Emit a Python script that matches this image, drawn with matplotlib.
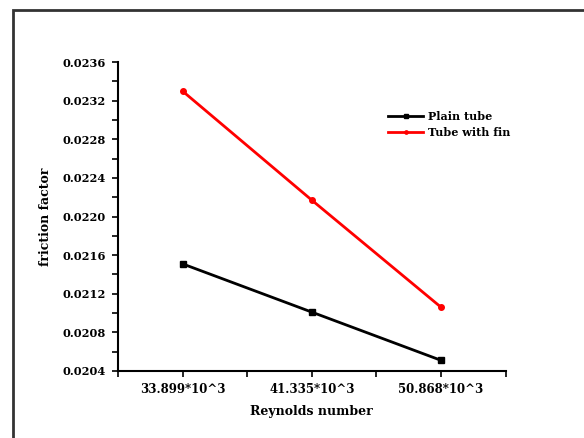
import matplotlib
matplotlib.use('Agg')
import numpy as np
from matplotlib import pyplot
from matplotlib.patches import Rectangle

reynolds_labels = ['33.899*10^3', '41.335*10^3', '50.868*10^3']
plain_tube = [0.02151, 0.02101, 0.02051]
tube_with_fin = [0.02330, 0.02217, 0.02106]
y_ticks = [0.0204, 0.0208, 0.0212, 0.0216, 0.0220, 0.0224, 0.0228, 0.0232, 0.0236]

pyplot.rcParams['font.family'] = 'DejaVu Serif'
pyplot.rcParams['font.weight'] = 'bold'
pyplot.rcParams['axes.labelweight'] = 'bold'

fig = pyplot.figure(figsize=(5.84, 4.38), dpi=100)
fig.patches.append(Rectangle((0.022, -0.1), 1.2, 1.077, transform=fig.transFigure,
                             fill=False, edgecolor='#333333', linewidth=2))
ax = fig.add_axes([0.202, 0.153, 0.664, 0.705])

x = np.arange(1, len(reynolds_labels) + 1)
ax.plot(x, plain_tube, color='black', marker='s', markersize=4, linewidth=2, label='Plain tube')
ax.plot(x, tube_with_fin, color='red', marker='o', markersize=4, linewidth=2, label='Tube with fin')

ax.spines['top'].set_visible(False)
ax.spines['right'].set_visible(False)
ax.spines['left'].set_linewidth(1.5)
ax.spines['bottom'].set_linewidth(1.5)

ax.set_xlim(0.5, 3.5)
ax.set_ylim(0.0204, 0.0236)
ax.set_xticks(x)
ax.set_xticklabels(reynolds_labels, fontsize=8.5)
ax.set_xticks([0.5, 1.5, 2.5, 3.5], minor=True)
ax.set_yticks(y_ticks)
ax.set_yticklabels(['%.4f' % v for v in y_ticks], fontsize=8.2)
ax.set_yticks(np.arange(0.0206, 0.0236, 0.0004), minor=True)
ax.tick_params(which='both', direction='out', length=4, width=1.2, pad=5)

ax.set_xlabel('Reynolds number', fontsize=9, labelpad=6)
ax.set_ylabel('friction factor', fontsize=9, labelpad=7)

ax.legend(loc='upper left', bbox_to_anchor=(0.67, 0.875), frameon=False, fontsize=8,
          handlelength=3.2, labelspacing=0.5, handletextpad=0.4, markerscale=0.6)

fig.savefig('out.png')
